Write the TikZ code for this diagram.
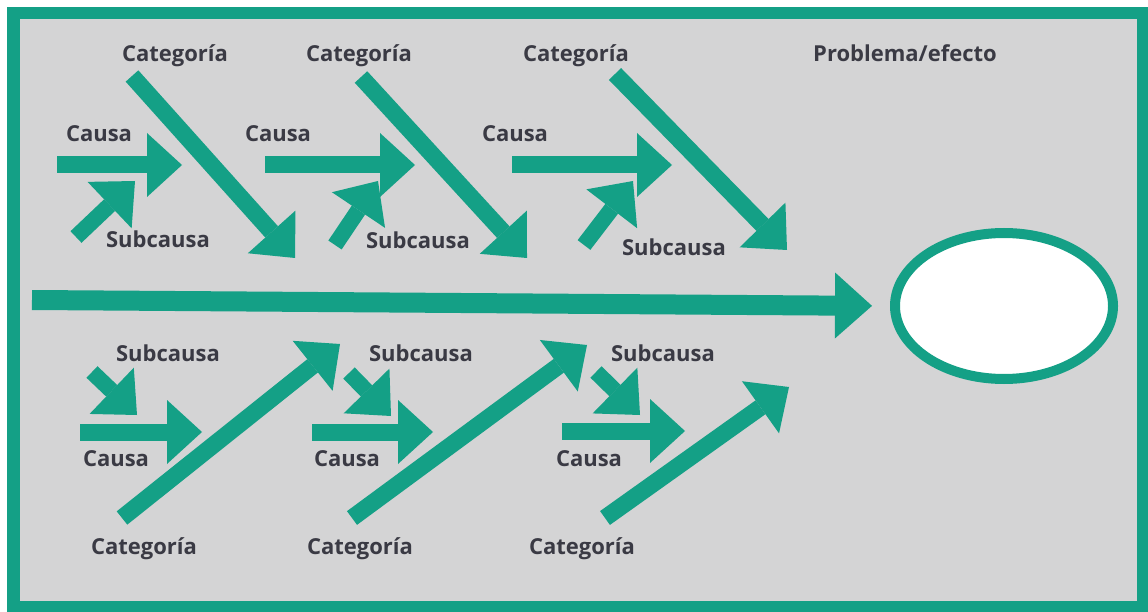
\documentclass[tikz,border=0pt]{standalone}
\usepackage{fontspec}
\setmainfont{Open Sans}
\usetikzlibrary{arrows.meta,shapes.geometric}
\definecolor{teal1}{HTML}{14A086}
\definecolor{bggray}{HTML}{D4D4D5}
\definecolor{txt}{HTML}{3A3A44}
\begin{document}
\begin{tikzpicture}[x=1pt,y=-1pt,
  lbl/.style={font=\fontsize{22}{24}\selectfont\bfseries, text=txt, anchor=base, inner sep=0pt},
  bone/.style={draw=teal1, line width=17pt, line cap=butt,
    -{Triangle[length=35pt,width=64pt,line width=0pt]}},
  subbone/.style={bone, line width=16pt},
  spine/.style={draw=teal1, line width=20pt, line cap=butt,
    -{Triangle[length=37pt,width=66pt,line width=0pt]}},
  effect/.style={ellipse, draw=teal1, line width=10pt, fill=white,
    minimum width=218pt, minimum height=146pt, inner sep=0pt}
]
\useasboundingbox (0,0) rectangle (1148,612);
\fill[white] (0,0) rectangle (1148,612);
\fill[teal1] (7,7) rectangle (1148,612);
\fill[bggray] (20,19) rectangle (1137,601);

% effect
\node[effect] (eff) at (1004,306) {};
\coordinate (mainT) at (32,300);
\draw[spine, shorten >=18pt] (mainT) -- (eff.west);

% top row coordinates
\coordinate (tc1a) at (132,76);  \coordinate (tc1b) at (295,258);
\coordinate (tc2a) at (361,77);  \coordinate (tc2b) at (527,258);
\coordinate (tc3a) at (615,74);  \coordinate (tc3b) at (787,250);
\coordinate (tk1a) at (57,165);  \coordinate (tk1b) at (182,165);
\coordinate (tk2a) at (265,165); \coordinate (tk2b) at (415,165);
\coordinate (tk3a) at (512,165); \coordinate (tk3b) at (672,165);
\coordinate (ts1a) at (76,237);  \coordinate (ts1b) at (135,181);
\coordinate (ts2a) at (335,245); \coordinate (ts2b) at (378,181);
\coordinate (ts3a) at (584,245); \coordinate (ts3b) at (633,181);

% bottom row coordinates
\coordinate (bs1a) at (92,372);  \coordinate (bs1b) at (137,415);
\coordinate (bs2a) at (349,373); \coordinate (bs2b) at (391,416);
\coordinate (bs3a) at (596,372); \coordinate (bs3b) at (640,415);
\coordinate (bk1a) at (80,432);  \coordinate (bk1b) at (202,432);
\coordinate (bk2a) at (312,432); \coordinate (bk2b) at (433,432);
\coordinate (bk3a) at (562,431); \coordinate (bk3b) at (685,431);
\coordinate (bc1a) at (122,518); \coordinate (bc1b) at (340,344);
\coordinate (bc2a) at (352,518); \coordinate (bc2b) at (587,345);
\coordinate (bc3a) at (605,518); \coordinate (bc3b) at (789,387);

% sub-causes
\foreach \n in {ts1,ts2,ts3,bs1,bs2,bs3}{
  \draw[subbone] (\n a) -- (\n b);
}
% causes
\foreach \n in {tk1,tk2,tk3,bk1,bk2,bk3}{
  \draw[bone] (\n a) -- (\n b);
}
% categories
\foreach \n in {tc1,tc2,tc3,bc1,bc2,bc3}{
  \draw[bone] (\n a) -- (\n b);
}

% labels top
\node[lbl] (ltc1) at (175,62) {Categoría};
\node[lbl] (ltc2) at (359,62) {Categoría};
\node[lbl] (ltc3) at (576,62) {Categoría};
\node[lbl] (lpe)  at (905,62) {Problema/efecto};
\node[lbl] (ltk1) at (99,142) {Causa};
\node[lbl] (ltk2) at (278,142) {Causa};
\node[lbl] (ltk3) at (515,142) {Causa};
\node[lbl] (lts1) at (158,248) {Subcausa};
\node[lbl] (lts2) at (418,249) {Subcausa};
\node[lbl] (lts3) at (674,256) {Subcausa};

% labels bottom
\node[lbl] (lbs1) at (168,361) {Subcausa};
\node[lbl] (lbs2) at (421,361) {Subcausa};
\node[lbl] (lbs3) at (663,361) {Subcausa};
\node[lbl] (lbk1) at (116,466) {Causa};
\node[lbl] (lbk2) at (347,466) {Causa};
\node[lbl] (lbk3) at (589,466) {Causa};
\node[lbl] (lbc1) at (144,554) {Categoría};
\node[lbl] (lbc2) at (360,554) {Categoría};
\node[lbl] (lbc3) at (582,554) {Categoría};
\end{tikzpicture}
\end{document}
